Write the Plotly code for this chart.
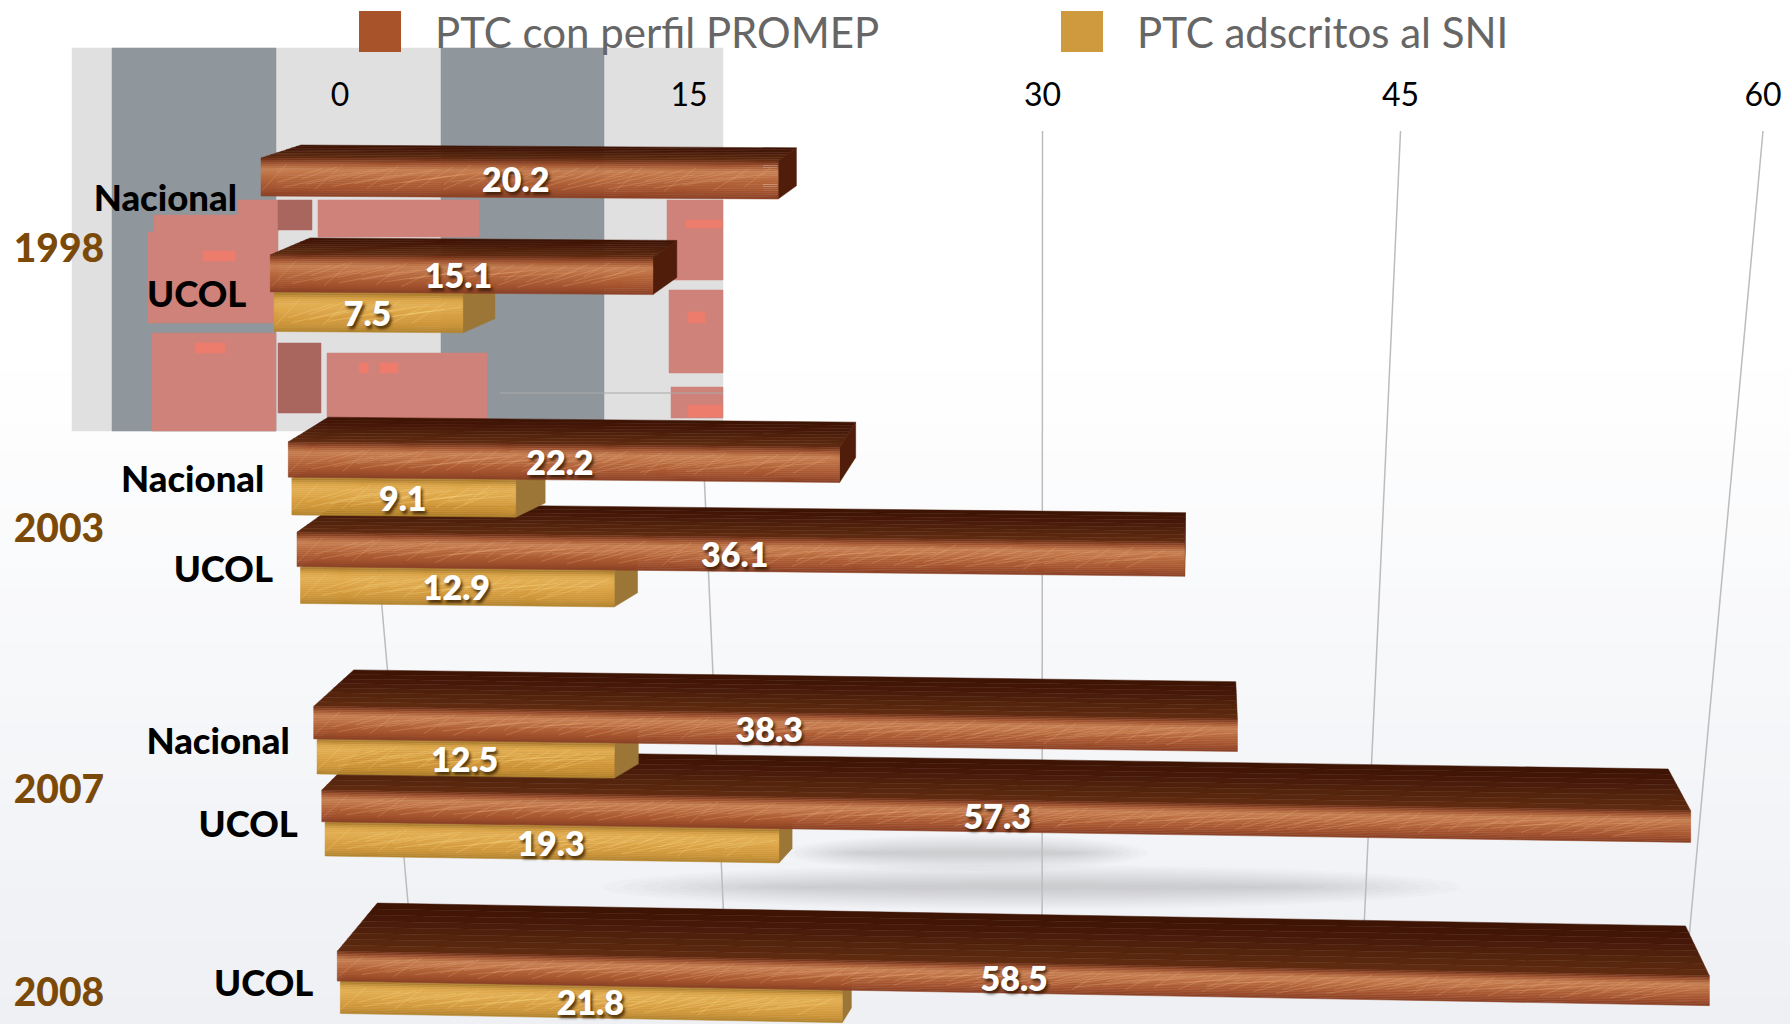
import plotly.graph_objects as go

# ---------- data ----------
YEARS = ["1998", "1998", "2003", "2003", "2007", "2007", "2008"]
GROUPS = ["Nacional", "UCOL", "Nacional", "UCOL", "Nacional", "UCOL", "UCOL"]
PROMEP = [20.2, 15.1, 22.2, 36.1, 38.3, 57.3, 58.5]
SNI = [None, 7.5, 9.1, 12.9, 12.5, 19.3, 21.8]
TICKS = [0, 15, 30, 45, 60]
SERIES_NAMES = ["PTC con perfil PROMEP", "PTC adscritos al SNI"]
SLOTS = [0, 1, 3, 4, 6, 7, 9]   # category slots, a gap between years

W, H = 1790, 1024
FONT = "Lato"
PX_PER_UNIT = 23.72
X0_PX = 340.0

# ---------- the tilted scale of the reference ----------
def to_axis(px):
    return (px - X0_PX) / PX_PER_UNIT

def row_top(t):
    return 158 + 98.08 * t - 1.083 * t * t - 0.2 * t

def row_h(t):
    return 38 - 0.9 * t

def left_px(y):
    return 261 + 0.0967 * (y - 177)

def unit_px(y, shrink):
    return 25.6 - shrink * (y - 177)

def slope(t):
    return 0.15 + 0.03 * t

def wall_x(v, y):
    top = 340 + v * (23.117 + 0.01 * v)
    bot = 408 + v * (20.87 + 0.00889 * v)
    f = (y - 131) / (903 - 131)
    return top + (bot - top) * f

def mix(c1, c2, f):
    a = [int(c1[i:i + 2], 16) for i in (1, 3, 5)]
    b = [int(c2[i:i + 2], 16) for i in (1, 3, 5)]
    return "#%02x%02x%02x" % tuple(round(p + (q - p) * f) for p, q in zip(a, b))

def ramp(stops, n):
    out = []
    for i in range(n):
        f = i / (n - 1) * (len(stops) - 1)
        j = min(int(f), len(stops) - 2)
        out.append(mix(stops[j], stops[j + 1], f - j))
    return out

BROWN = {
    "front": ramp(["#74351b", "#a85a34", "#c67f52", "#bf7245", "#b4653a", "#ab5a33", "#a04f2c", "#8d4327"], 18),
    "top": ramp(["#3e1405", "#47190a", "#52230c", "#5e2a10"], 8),
    "end": "#501d0b",
    "shrink": 0.00272,
    "grain": "rgba(240,178,128,0.28)",
    "label_shift": 0.14,
}
GOLD = {
    "front": ramp(["#b08030", "#dca547", "#e2ae52", "#dfa84a", "#d9a042", "#d39a3c", "#cb9338", "#b58630"], 18),
    "top": ramp(["#a07c3c", "#a88238", "#b08a3c"], 3),
    "end": "#9b7637",
    "shrink": 0.00314,
    "grain": "rgba(250,218,135,0.32)",
    "label_shift": 0.0,
}

fig = go.Figure()

def poly(xs, ys, color):
    fig.add_trace(go.Scatter(
        x=[to_axis(p) for p in xs] + [to_axis(xs[0])], y=list(ys) + [ys[0]],
        mode="lines", fill="toself", fillcolor=color,
        line=dict(width=0.5, color=color), hoverinfo="skip", showlegend=False))

# ---------- gridlines ----------
for v in TICKS:
    y0, y1 = 131, 935
    fig.add_trace(go.Scatter(
        x=[to_axis(wall_x(v, y0)), to_axis(wall_x(v, y1))], y=[y0, y1], mode="lines",
        line=dict(color="#bcbcbc", width=1.5), hoverinfo="skip", showlegend=False))

# ---------- damaged image patch behind the top rows ----------
NOISE_LIGHT, NOISE_BLUE, NOISE_PINK, NOISE_DARK, NOISE_HOT = "#e0e0e0", "#8f979d", "#cf8279", "#a9665f", "#ee7c6c"
PATCH = [
    (72, 723, 48, 431, NOISE_LIGHT),
    (112, 276, 48, 431, NOISE_BLUE), (441, 604, 48, 431, NOISE_BLUE),
    (238, 278, 200, 232, NOISE_PINK), (154, 278, 215, 232, NOISE_PINK), (148, 278, 232, 323, NOISE_PINK),
    (152, 276, 333, 431, NOISE_PINK),
    (278, 312, 200, 230, NOISE_DARK), (318, 479, 200, 237, NOISE_PINK),
    (278, 321, 343, 413, NOISE_DARK), (327, 487, 353, 431, NOISE_PINK),
    (667, 723, 200, 280, NOISE_PINK), (669, 723, 290, 373, NOISE_PINK), (671, 723, 387, 418, NOISE_PINK),
    (203, 235, 251, 261, NOISE_HOT), (195, 225, 343, 353, NOISE_HOT), (359, 368, 363, 373, NOISE_HOT),
    (380, 398, 363, 373, NOISE_HOT), (686, 722, 220, 228, NOISE_HOT), (688, 705, 312, 323, NOISE_HOT),
    (688, 722, 405, 417, NOISE_HOT),
]
for x0, x1, y0, y1, c in PATCH:
    poly([x0, x1, x1, x0], [y0, y0, y1, y1], c)

fig.add_trace(go.Scatter(x=[to_axis(500), to_axis(723)], y=[393, 393], mode="lines",
                         line=dict(color="#a9a9a9", width=1), hoverinfo="skip", showlegend=False))

# ---------- bars ----------
def draw_bar(v, ytop, h, t, style, dx_left, dx_right, dy):
    ymid = ytop + h / 2
    L, k = left_px(ymid), unit_px(ymid, style["shrink"])
    R = L + v * k
    s = slope(t) * v
    sb = s * 0.93
    # top face
    n = len(style["top"])
    for i, c in enumerate(style["top"]):
        f0, f1 = i / n, (i + 1) / n
        xa0, xa1 = L + dx_left * (1 - f0), R + dx_right * (1 - f0)
        xb0, xb1 = L + dx_left * (1 - f1), R + dx_right * (1 - f1)
        sa, sc = sb + (s - sb) * f0, sb + (s - sb) * f1
        poly([xa0, xa1, xb1, xb0],
             [ytop - dy * (1 - f0), ytop + sa - dy * (1 - f0), ytop + sc - dy * (1 - f1), ytop - dy * (1 - f1)], c)
    # end face
    if dx_right > 0:
        poly([R, R + dx_right, R + dx_right, R],
             [ytop + s, ytop + sb - dy, ytop + h + sb - dy, ytop + h + s], style["end"])
    # front face, shaded in bands
    n = len(style["front"])
    for i, c in enumerate(style["front"]):
        f0, f1 = i / n, (i + 1) / n
        poly([L, R, R, L],
             [ytop + h * f0, ytop + s + h * f0, ytop + s + h * f1, ytop + h * f1], c)
    # wood grain streaks across the front face
    gx, gy = [], []
    count = int((R - L) / 11)
    for j in range(count):
        a = (j * 0.618034) % 1
        b = (j * 0.414214) % 1
        run = 25 + 45 * b
        x0 = L + (R - L - run - 2) * (j + a) / count + 1
        x1 = x0 + run
        f0 = 0.85 - 0.35 * a
        f1 = 0.15 + 0.3 * b
        gx += [to_axis(x0), to_axis(x1), None]
        gy += [ytop + s * (x0 - L) / (R - L) + h * f0, ytop + s * (x1 - L) / (R - L) + h * f1, None]
    fig.add_trace(go.Scatter(x=gx, y=gy, mode="lines", line=dict(color=style["grain"], width=1),
                             hoverinfo="skip", showlegend=False))
    return (L + R) / 2 - 1 - style["label_shift"] * v, ymid + s / 2 + 4.5, L

label_x, label_y, label_t = [], [], []
group_x, group_y = [], []
for i in reversed(range(len(SLOTS))):
    t = SLOTS[i]
    top, h = row_top(t), row_h(t)
    if SNI[i] is not None:
        lx, ly, _ = draw_bar(SNI[i], top + h + 1, h + 1.5, t, GOLD,
                             44 - 1.6 * SNI[i], 44 - 1.6 * SNI[i], 14)
        label_x.append(lx); label_y.append(ly); label_t.append(f"{SNI[i]:.1f}")
    dy = 13 + 3.9 * t
    lx, ly, L = draw_bar(PROMEP[i], top, h, t, BROWN, 40, 40.5 - 1.1 * PROMEP[i], dy)
    label_x.append(lx); label_y.append(ly); label_t.append(f"{PROMEP[i]:.1f}")
    group_x.append(L - 24); group_y.append(top + h + 6)

group_x.reverse(); group_y.reverse()

fig.add_trace(go.Scatter(
    x=[to_axis(p) for p in label_x], y=label_y, text=label_t, mode="text",
    textposition="middle center", hoverinfo="skip", showlegend=False,
    textfont=dict(family=FONT, size=34, color="white", weight=800, shadow="2px 3px 3px rgba(40,20,0,0.75)")))

fig.add_trace(go.Scatter(
    x=[to_axis(p) for p in group_x], y=group_y, text=GROUPS, mode="text",
    textposition="middle left", hoverinfo="skip", showlegend=False,
    textfont=dict(family=FONT, size=36.5, color="black", weight=900)))

year_names = list(dict.fromkeys(YEARS))
year_y = []
for n in year_names:
    idx = [i for i, yr in enumerate(YEARS) if yr == n]
    mean_group = sum(group_y[i] for i in idx) / len(idx)
    mean_slot = sum(SLOTS[i] for i in idx) / len(idx)
    year_y.append(mean_group + 1.5 + 0.9 * mean_slot)
fig.add_trace(go.Scatter(
    x=[to_axis(59)] * len(year_names), y=year_y, text=year_names, mode="text",
    textposition="middle center", hoverinfo="skip", showlegend=False,
    textfont=dict(family=FONT, size=39, color="#7b4a08", weight=900)))

# ---------- page furniture: background, shadow, legend ----------
shapes = []
BANDS = 24
for i in range(BANDS):
    y0 = 370 + (H - 370) * i / BANDS
    y1 = 370 + (H - 370) * (i + 1) / BANDS + 1
    shapes.append(dict(type="rect", xref="paper", yref="paper", x0=0, x1=1,
                       y0=1 - y1 / H, y1=1 - y0 / H, layer="below", line_width=0,
                       fillcolor=mix("#ffffff", "#eef0f4", (i + 1) / BANDS)))
for (xa, xb, yc, half) in [(603, 1460, 887, 22), (786, 1148, 853, 18)]:
    mid = (xa + xb) / 2
    for i in range(10):
        f = (i + 1) / 10
        hw = (xb - xa) / 2 * (0.55 + 0.45 * f)
        shapes.append(dict(type="circle", xref="paper", yref="paper", layer="below", line_width=0,
                           x0=(mid - hw) / W, x1=(mid + hw) / W,
                           y0=1 - (yc + half * f) / H, y1=1 - (yc - half * f) / H,
                           fillcolor="#555a60", opacity=0.022))
shapes.append(dict(type="rect", xref="paper", yref="paper", x0=359 / W, x1=401 / W,
                   y0=1 - 52 / H, y1=1 - 11 / H, line_width=0, fillcolor="#a8532a"))
shapes.append(dict(type="rect", xref="paper", yref="paper", x0=1061 / W, x1=1103 / W,
                   y0=1 - 52 / H, y1=1 - 11 / H, line_width=0, fillcolor="#cf9a3e"))

annotations = [
    dict(x=x / W, y=1 - 32 / H, xref="paper", yref="paper", text=name, showarrow=False, xanchor="left",
         yanchor="middle", font=dict(family=FONT, size=42, color="#666666"))
    for x, name in zip([433, 1135], SERIES_NAMES)
]

fig.update_layout(
    width=W, height=H, margin=dict(l=0, r=0, t=0, b=0), autosize=False,
    paper_bgcolor="white", plot_bgcolor="rgba(0,0,0,0)", showlegend=False,
    shapes=shapes, annotations=annotations,
    xaxis=dict(range=[to_axis(0), to_axis(W)], side="top", anchor="free", position=1 - 112 / H,
               tickmode="array", tickvals=[to_axis(wall_x(v, 131)) for v in TICKS],
               ticktext=[str(v) for v in TICKS], showgrid=False, zeroline=False, showline=False,
               ticks="", tickfont=dict(family=FONT, size=32, color="black"), automargin=False),
    yaxis=dict(range=[H, 0], visible=False, fixedrange=True, automargin=False),
)

fig.write_html("out.html", config=dict(displayModeBar=False), post_script="document.body.style.margin='0';")
